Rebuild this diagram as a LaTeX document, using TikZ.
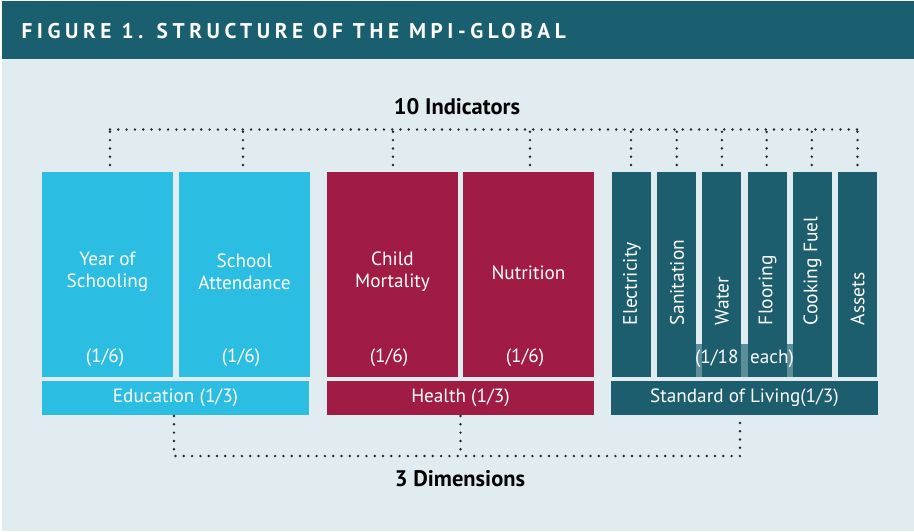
\documentclass[tikz,border=0pt]{standalone}
\usepackage{fontspec}
\setmainfont{PT Sans}
\newfontfamily\headfont[LetterSpace=21.5]{PT Sans Bold}
\begin{document}
\begin{tikzpicture}[x=1pt,y=-1pt,
  every node/.style={inner sep=0pt, outer sep=0pt},
  indbox/.style={rectangle, minimum width=131pt, minimum height=205pt},
  slbox/.style={rectangle, fill=slteal, minimum width=39pt, minimum height=205pt},
  dimbar/.style={rectangle, minimum width=267pt, minimum height=34pt},
  boxtxt/.style={text=white, font=\fontsize{19.2}{22}\selectfont, align=center},
  vtxt/.style={text=white, font=\fontsize{19.5}{22}\selectfont, rotate=90, anchor=west},
  bigtxt/.style={font=\bfseries\fontsize{22.5}{26}\selectfont, text=black},
  dots/.style={draw=black!85, line width=2.7pt, line cap=round, dash pattern=on 0pt off 8.3pt}
]
\definecolor{bgblue}{HTML}{E0ECF0}
\definecolor{headteal}{HTML}{1A5F70}
\definecolor{educyan}{HTML}{2CBDE2}
\definecolor{healthred}{HTML}{A01C45}
\definecolor{slteal}{HTML}{1C5D6E}

% canvas and title band
\fill[white] (0,0) rectangle (914,531);
\useasboundingbox (0,0) rectangle (914,531);
\fill[bgblue] (2,1) rectangle (914,531);
\fill[headteal] (2,1) rectangle (914,58.7);
\node[anchor=west, text=white, font=\headfont\fontsize{21.3}{24}\selectfont] (title) at (21.5,31) {FIGURE 1. STRUCTURE OF THE MPI-GLOBAL};

% indicator boxes: education and health
\node[indbox, fill=educyan] (ys) at (107.5,274.5) {};
\node[indbox, fill=educyan] (sa) at (244.5,274.5) {};
\node[indbox, fill=healthred] (cm) at (392.5,274.5) {};
\node[indbox, fill=healthred] (nu) at (528.5,274.5) {};

\node[boxtxt] (ysT) at (107.5,272) {Year of\\Schooling};
\node[boxtxt] (saT) at (244.5,272) {School\\Attendance};
\node[boxtxt] (cmT) at (392.5,272) {Child\\Mortality};
\node[boxtxt] (nuT) at (528.5,273) {Nutrition};
\node[boxtxt] (ysW) at (105,357.5) {(1/6)};
\node[boxtxt] (saW) at (241,357.5) {(1/6)};
\node[boxtxt] (cmW) at (389,357.5) {(1/6)};
\node[boxtxt] (nuW) at (525,357.5) {(1/6)};

% indicator boxes: standard of living
\node[slbox] (el) at (631.5,274.5) {};
\node[slbox] (sn) at (676.7,274.5) {};
\node[slbox] (wa) at (721.9,274.5) {};
\node[slbox] (fl) at (767.1,274.5) {};
\node[slbox] (cf) at (812.3,274.5) {};
\node[slbox] (as) at (857.5,274.5) {};

% shared weight strip across the middle boxes
\fill[slteal, fill opacity=0.66] (680,344) rectangle (804,377);

\node[vtxt] (elT) at (632,325) {Electricity};
\node[vtxt] (snT) at (677,325) {Sanitation};
\node[vtxt] (waT) at (722,325) {Water};
\node[vtxt] (flT) at (767.5,325) {Flooring};
\node[vtxt] (cfT) at (812.5,325) {Cooking Fuel};
\node[vtxt] (asT) at (857.5,325) {Assets};
\node[boxtxt] (slW) at (744.5,359) {(1/18\hspace{0.6em}each)};

% dimension bars
\node[dimbar, fill=educyan] (edu) at (175.5,398) {};
\node[dimbar, fill=healthred] (hea) at (460.5,398) {};
\node[dimbar, fill=slteal] (sol) at (744.5,398) {};
\node[boxtxt] at (edu) {Education (1/3)};
\node[boxtxt] at (hea) {Health (1/3)};
\node[boxtxt] at (sol) {Standard of Living(1/3)};

% headings
\node[bigtxt] (ind) at (457,107) {10 Indicators};
\node[bigtxt] (dim) at (460,479) {3 Dimensions};

% dotted bracket over the indicators
\coordinate (topL) at (110,129.5);
\coordinate (topR) at (857.5,129.5);
\draw[dots] (topL) -- (topR);
\foreach \b/\xs in {ys/2.5,sa/-1.5,cm/0.5,nu/1.5,el/-0.5,sn/0,wa/0,fl/-0.5,cf/-0.5,as/0}{
  \draw[dots] ([xshift=\xs pt, yshift=7pt]\b.north) -- ([xshift=\xs pt]\b.north |- topL);
}

% dotted bracket under the dimensions
\coordinate (botL) at (174,456);
\draw[dots] ([xshift=-1.5pt, yshift=-1pt]edu.south) -- ([xshift=-1.5pt]edu.south |- botL)
  -- ([xshift=-4.5pt]sol.south |- botL) -- ([xshift=-4.5pt, yshift=-1pt]sol.south);
\draw[dots] ([yshift=-1pt]hea.south) -- (hea.south |- botL);
\end{tikzpicture}
\end{document}
